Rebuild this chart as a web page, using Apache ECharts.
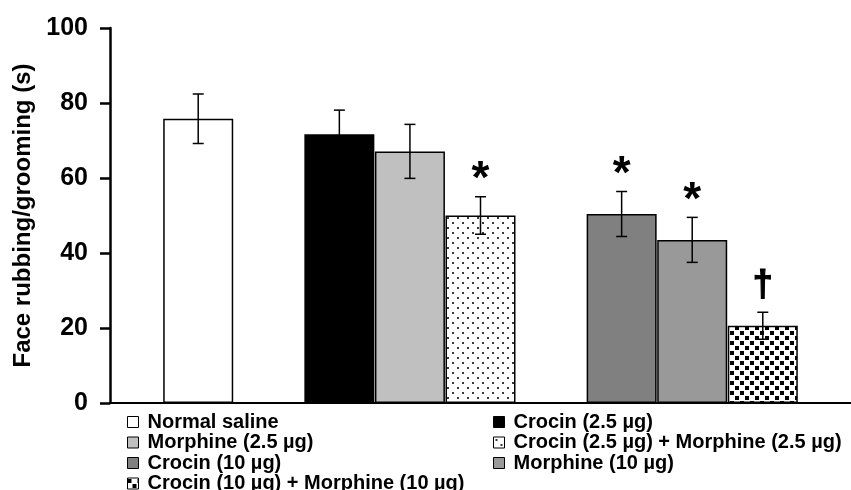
<!DOCTYPE html>
<html>
<head>
<meta charset="utf-8">
<script src="https://cdn.jsdelivr.net/npm/echarts@6/dist/echarts.min.js"></script>
<style>html,body{margin:0;padding:0;background:#fff}#c{width:851px;height:490px}</style>
</head>
<body>
<div id="c"></div>
<script>
const categories = ['Normal saline','Crocin (2.5 µg)','Morphine (2.5 µg)','Crocin (2.5 µg) + Morphine (2.5 µg)','Crocin (10 µg)','Morphine (10 µg)','Crocin (10 µg) + Morphine (10 µg)'];
const positions = [1.25, 3.25, 4.25, 5.25, 7.25, 8.25, 9.25];
const means = [75.8, 71.7, 67.1, 50.0, 50.4, 43.5, 20.6];
const errors = [6.6, 6.4, 7.2, 5.0, 6.0, 6.0, 3.6];
const marks = ['', '', '', '*', '*', '*', '†'];
const yTicks = [0, 20, 40, 60, 80, 100];

const FONT = '"Liberation Sans", Arial, sans-serif';

function makePattern(size, bg, fg, rects) {
  const c = document.createElement('canvas');
  c.width = size; c.height = size;
  const ctx = c.getContext('2d');
  ctx.fillStyle = bg; ctx.fillRect(0, 0, size, size);
  ctx.fillStyle = fg;
  rects.forEach(r => ctx.fillRect(r[0], r[1], r[2], r[3]));
  return { image: c, repeat: 'repeat' };
}
const dotPattern = makePattern(10, '#ffffff', '#3a3a3a', [[2, 2, 2, 2], [7, 7, 2, 2]]);
const squarePattern = makePattern(10, '#ffffff', '#000000', [[0, 1, 4, 4], [5, 6, 4, 4]]);

const fills = ['#ffffff', '#000000', '#c0c0c0', dotPattern, '#808080', '#999999', squarePattern];

const barSeries = categories.map((name, i) => ({
  name: name,
  type: 'bar',
  barWidth: 70,
  barGap: '-100%',
  itemStyle: { color: fills[i], borderColor: '#000', borderWidth: 1.5 },
  data: [[positions[i], means[i]]],
  z: 2
}));

const errSeries = {
  type: 'custom',
  z: 5,
  encode: { x: 0, y: 1 },
  data: positions.map((p, i) => [p, means[i], errors[i], i]),
  renderItem: function (params, api) {
    const x = api.value(0), m = api.value(1), e = api.value(2), idx = api.value(3);
    const top = api.coord([x, m + e]);
    const bot = api.coord([x, m - e]);
    const st = { stroke: '#000', lineWidth: 1.5 };
    const children = [
      { type: 'line', shape: { x1: top[0], y1: top[1], x2: bot[0], y2: bot[1] }, style: st },
      { type: 'line', shape: { x1: top[0] - 5.5, y1: top[1], x2: top[0] + 5.5, y2: top[1] }, style: st },
      { type: 'line', shape: { x1: bot[0] - 5.5, y1: bot[1], x2: bot[0] + 5.5, y2: bot[1] }, style: st }
    ];
    const mk = marks[idx];
    if (mk) {
      const isStar = mk === '*';
      children.push({
        type: 'text',
        style: {
          text: mk,
          x: top[0],
          y: top[1] - (isStar ? 16 : 26),
          align: 'center',
          verticalAlign: 'middle',
          fill: '#000',
          stroke: isStar ? null : '#000',
          lineWidth: isStar ? 0 : 1.2,
          font: 'bold ' + (isStar ? 46 : 36) + 'px ' + FONT
        }
      });
    }
    return { type: 'group', children: children };
  }
};

const legendText = { fontFamily: FONT, fontWeight: 'bold', fontSize: 20, color: '#000', lineHeight: 19, padding: [0, 0, 0, 4] };
const legendCommon = {
  orient: 'vertical', itemWidth: 11, itemHeight: 11, itemGap: 0.5, padding: 0, height: 150,
  icon: 'rect', selectedMode: false, textStyle: legendText,
  itemStyle: { borderColor: '#000', borderWidth: 1 }
};

const option = {
  animation: false,
  backgroundColor: '#fff',
  grid: { left: 110, right: 0, top: 28, bottom: 87, containLabel: false, outerBoundsMode: 'none' },
  legend: [
    Object.assign({}, legendCommon, { left: 127, top: 412, data: [categories[0], categories[2], categories[4], categories[6]] }),
    Object.assign({}, legendCommon, { left: 493, top: 412, data: [categories[1], categories[3], categories[5]] })
  ],
  xAxis: {
    type: 'value', min: 0, max: 10.5,
    axisLine: { show: true, onZero: false, lineStyle: { color: '#000', width: 2 } },
    axisTick: { show: false }, axisLabel: { show: false }, splitLine: { show: false }
  },
  yAxis: {
    type: 'value', min: yTicks[0], max: yTicks[yTicks.length - 1], interval: 20,
    name: 'Face rubbing/grooming (s)', nameLocation: 'middle', nameGap: 75,
    nameTextStyle: { fontFamily: FONT, fontWeight: 'bold', fontSize: 24, color: '#000' },
    axisLine: { show: true, lineStyle: { color: '#000', width: 2.5 } },
    axisTick: { show: true, inside: false, length: 10, lineStyle: { color: '#000', width: 2.5 } },
    axisLabel: { margin: 22, fontFamily: FONT, fontWeight: 'bold', fontSize: 25, color: '#000' },
    splitLine: { show: false }
  },
  series: barSeries.concat([errSeries])
};

const chart = echarts.init(document.getElementById('c'), null, { renderer: 'canvas' });
chart.setOption(option);
</script>
</body>
</html>
